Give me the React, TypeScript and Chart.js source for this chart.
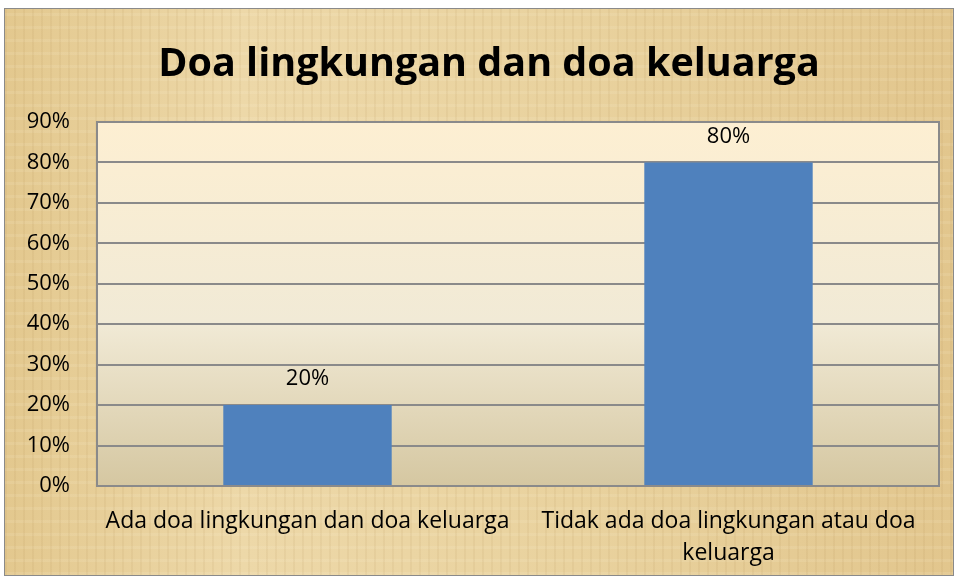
import React, { useEffect, useRef } from "react";
import { Chart, registerables } from "chart.js";

Chart.register(...registerables);

const TITLE = "Doa lingkungan dan doa keluarga";
const CATEGORIES: (string | string[])[] = [
  "Ada doa lingkungan dan doa keluarga",
  ["Tidak ada doa lingkungan atau doa", "keluarga"],
];
const VALUES = [0.2, 0.8];
const VALUE_LABELS = ["20%", "80%"];
const Y_MAX = 0.9;
const Y_STEP = 0.1;

const FONT = "'Open Sans', 'Noto Sans', sans-serif";

const plotBg = {
  id: "plotBg",
  beforeDraw(chart: any) {
    const { ctx, chartArea: a } = chart;
    const g = ctx.createLinearGradient(0, a.top, 0, a.bottom);
    g.addColorStop(0, "#FDEFD2");
    g.addColorStop(0.55, "#F1EAD6");
    g.addColorStop(1, "#D5C7A1");
    ctx.save();
    ctx.fillStyle = g;
    ctx.fillRect(a.left, a.top, a.right - a.left, a.bottom - a.top);
    ctx.restore();
  },
  afterDatasetsDraw(chart: any) {
    const { ctx, chartArea: a } = chart;
    ctx.save();
    ctx.strokeStyle = "#8a8a8a";
    ctx.lineWidth = 2;
    ctx.strokeRect(a.left, a.top, a.right - a.left, a.bottom - a.top);
    const meta = chart.getDatasetMeta(0);
    ctx.fillStyle = "#000";
    ctx.font = `22px ${FONT}`;
    ctx.textAlign = "center";
    ctx.textBaseline = "middle";
    meta.data.forEach((bar: any, i: number) => {
      ctx.fillText(VALUE_LABELS[i], bar.x, bar.y - 26);
    });
    // chart title, centred a little right of the canvas middle like the original
    ctx.font = `bold 39.5px ${FONT}`;
    ctx.textBaseline = "alphabetic";
    ctx.fillText(TITLE, chart.width / 2 + 10, a.top - 46);
    ctx.restore();
  },
};

export default function App() {
  const ref = useRef<HTMLCanvasElement>(null);
  useEffect(() => {
    document.body.style.margin = "0";
    const chart = new Chart(ref.current!, {
      type: "bar",
      data: {
        labels: CATEGORIES,
        datasets: [
          {
            data: VALUES,
            backgroundColor: "#4F81BD",
            barPercentage: 0.4,
            categoryPercentage: 1,
          },
        ],
      },
      options: {
        animation: false,
        responsive: false,
        layout: { padding: { left: 0, right: 15, top: 114, bottom: 0 } },
        plugins: {
          legend: { display: false },
          tooltip: { enabled: false },
          title: { display: false },
        },
        scales: {
          x: {
            grid: { display: false, drawTicks: false },
            border: { display: false },
            ticks: {
              color: "#000",
              font: { family: FONT, size: 23, lineHeight: 1.4 },
              padding: 19,
              maxRotation: 0,
              autoSkip: false,
            },
            afterFit(scale: any) {
              scale.height = 90;
            },
          },
          y: {
            min: 0,
            max: Y_MAX,
            grid: { color: "#8a8a8a", lineWidth: 2, drawTicks: false },
            border: { display: false },
            ticks: {
              stepSize: Y_STEP,
              color: "#000",
              font: { family: FONT, size: 22 },
              padding: 27,
              callback: (v: any) => `${Math.round(Number(v) * 100)}%`,
            },
            afterFit(scale: any) {
              scale.width = 93;
            },
          },
        },
      },
      plugins: [plotBg],
    });
    return () => chart.destroy();
  }, []);

  const texture = [
    "repeating-linear-gradient(90deg, rgba(150,110,50,0.07) 0px, rgba(150,110,50,0.07) 2px, rgba(0,0,0,0) 2px, rgba(0,0,0,0) 9px)",
    "repeating-linear-gradient(0deg, rgba(255,250,230,0.10) 0px, rgba(255,250,230,0.10) 3px, rgba(0,0,0,0) 3px, rgba(0,0,0,0) 13px)",
    "linear-gradient(90deg, #E3C88E 0%, #EDD8A8 25%, #E9D29E 60%, #E2C68D 100%)",
  ].join(", ");

  return (
    <div style={{ position: "relative", width: 956, height: 576, background: "#fff", overflow: "hidden" }}>
      <div
        style={{
          position: "absolute",
          left: 4,
          top: 8,
          width: 950,
          height: 568,
          boxSizing: "border-box",
          border: "1px solid #8a8a8a",
          background: texture,
        }}
      >
        <canvas ref={ref} width={950} height={568} style={{ position: "absolute", left: -1, top: -1 }} />
      </div>
    </div>
  );
}
